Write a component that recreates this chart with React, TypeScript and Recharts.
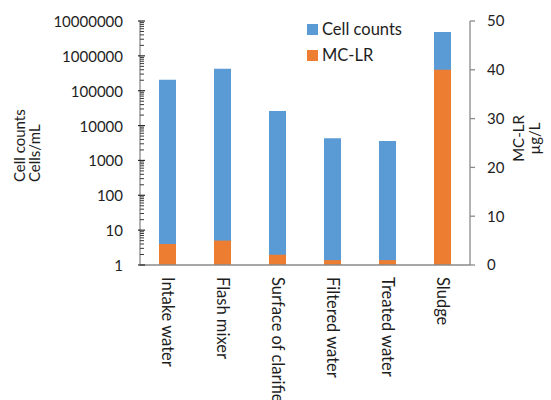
import React from "react";
import { BarChart, Bar, XAxis, YAxis } from "recharts";

// Treatment stages along the x axis
const stages = [
  "Intake water",
  "Flash mixer",
  "Surface of clarifier",
  "Filtered water",
  "Treated water",
  "Sludge",
];

// Cyanobacterial cell counts (cells/mL, log axis)
const cellCounts = [205000, 425000, 26000, 4300, 3600, 4800000];

// Microcystin-LR concentration (µg/L, right axis)
const mcLr = [4.3, 5.0, 2.1, 1.0, 1.0, 40];

// Decade ticks on the log axis
const majorTicks = [1, 10, 100, 1000, 10000, 100000, 1000000, 10000000];
const minorTicks = majorTicks
  .slice(0, -1)
  .flatMap((d) => [2, 3, 4, 5, 6, 7, 8, 9].map((m) => d * m));
const leftTicks = [...majorTicks, ...minorTicks].sort((a, b) => a - b);

// Right axis ticks
const rightTicks = [0, 10, 20, 30, 40, 50];

const data = stages.map((stage, i) => ({
  stage,
  cells: cellCounts[i],
  mclr: mcLr[i],
}));

const FONT = "Lato, 'DejaVu Sans', sans-serif";
const TEXT = "#1e1e1e";
const AXIS = "#8a8a8a";
const BLUE = "#5B9BD5";
const ORANGE = "#ED7D31";

const LogTick = (props: any) => {
  const { x, y, payload } = props;
  const v = payload.value;
  const isMajor = majorTicks.includes(v);
  if (!isMajor) {
    return <line x1={x} x2={x + 4} y1={y} y2={y} stroke="#3a3a3a" strokeWidth={1} />;
  }
  return (
    <g>
      <line x1={x - 2} x2={x + 5} y1={y} y2={y} stroke="#2a2a2a" strokeWidth={1.2} />
      <text
        x={x - 17}
        y={y}
        textAnchor="end"
        dominantBaseline="central"
        fontFamily={FONT}
        fontSize={15}
        fill={TEXT}
      >
        {String(v)}
      </text>
    </g>
  );
};

const StageTick = (props: any) => {
  const { x, y, payload } = props;
  return (
    <text
      x={0}
      y={0}
      transform={`translate(${x},${y + 12}) rotate(90)`}
      textAnchor="start"
      dominantBaseline="central"
      fontFamily={FONT}
      fontSize={16.5}
      fill={TEXT}
    >
      {payload.value}
    </text>
  );
};

const LeftTitle = (props: any) => {
  const vb = props.viewBox || { x: 0 };
  const bottom = 182;
  return (
    <g fontFamily={FONT} fontSize={15} fill={TEXT}>
      <text
        transform={`translate(${vb.x + 19},${bottom}) rotate(-90)`}
        textAnchor="start"
        dominantBaseline="central"
      >
        Cell counts
      </text>
      <text
        transform={`translate(${vb.x + 34},${bottom}) rotate(-90)`}
        textAnchor="start"
        dominantBaseline="central"
      >
        Cells/mL
      </text>
    </g>
  );
};

const RightTitle = (props: any) => {
  const vb = props.viewBox || { x: 470 };
  const mid = 138.5;
  return (
    <g fontFamily={FONT} fontSize={15} fill={TEXT}>
      <text
        transform={`translate(${vb.x + 48},${mid}) rotate(-90)`}
        textAnchor="middle"
        dominantBaseline="central"
      >
        MC-LR
      </text>
      <text
        transform={`translate(${vb.x + 64},${mid}) rotate(-90)`}
        textAnchor="middle"
        dominantBaseline="central"
      >
        µg/L
      </text>
    </g>
  );
};

const legendItems = [
  { name: "Cell counts", color: BLUE },
  { name: "MC-LR", color: ORANGE },
];

export default function App() {
  return (
    <div style={{ position: "absolute", left: 0, top: 0, width: 551, height: 400 }}>
      <BarChart
        width={551}
        height={400}
        data={data}
        margin={{ top: 21, right: 0, bottom: 0, left: 0 }}
        barGap={-17}
      >
        <XAxis
          dataKey="stage"
          height={135}
          interval={0}
          tickLine={false}
          tickSize={0}
          tickMargin={0}
          axisLine={{ stroke: AXIS, strokeWidth: 1.3 }}
          tick={<StageTick />}
        />
        <YAxis
          yAxisId="left"
          orientation="left"
          width={140}
          scale="log"
          domain={[1, 10000000]}
          ticks={leftTicks}
          interval={0}
          allowDataOverflow
          tickLine={false}
          tickSize={0}
          tickMargin={0}
          axisLine={{ stroke: AXIS, strokeWidth: 1.3 }}
          tick={<LogTick />}
          label={{ content: <LeftTitle /> }}
        />
        <YAxis
          yAxisId="right"
          orientation="right"
          width={81}
          domain={[0, 50]}
          ticks={rightTicks}
          interval={0}
          tickSize={5}
          tickMargin={12}
          axisLine={{ stroke: AXIS, strokeWidth: 1.3 }}
          tickLine={{ stroke: AXIS, strokeWidth: 1.3 }}
          tick={{ fontFamily: FONT, fontSize: 15, fill: TEXT }}
          label={{ content: <RightTitle /> }}
        />
        <Bar
          dataKey="cells"
          yAxisId="left"
          fill={BLUE}
          barSize={17}
          isAnimationActive={false}
        />
        <Bar
          dataKey="mclr"
          yAxisId="right"
          fill={ORANGE}
          barSize={17}
          isAnimationActive={false}
        />
      </BarChart>
      <div style={{ position: "absolute", left: 307, top: 16, fontFamily: FONT }}>
        {legendItems.map((it) => (
          <div
            key={it.name}
            style={{ display: "flex", alignItems: "center", height: 26, fontSize: 16.5, color: TEXT }}
          >
            <span
              style={{ display: "inline-block", width: 11, height: 11, background: it.color, marginRight: 4 }}
            />
            <span>{it.name}</span>
          </div>
        ))}
      </div>
    </div>
  );
}
